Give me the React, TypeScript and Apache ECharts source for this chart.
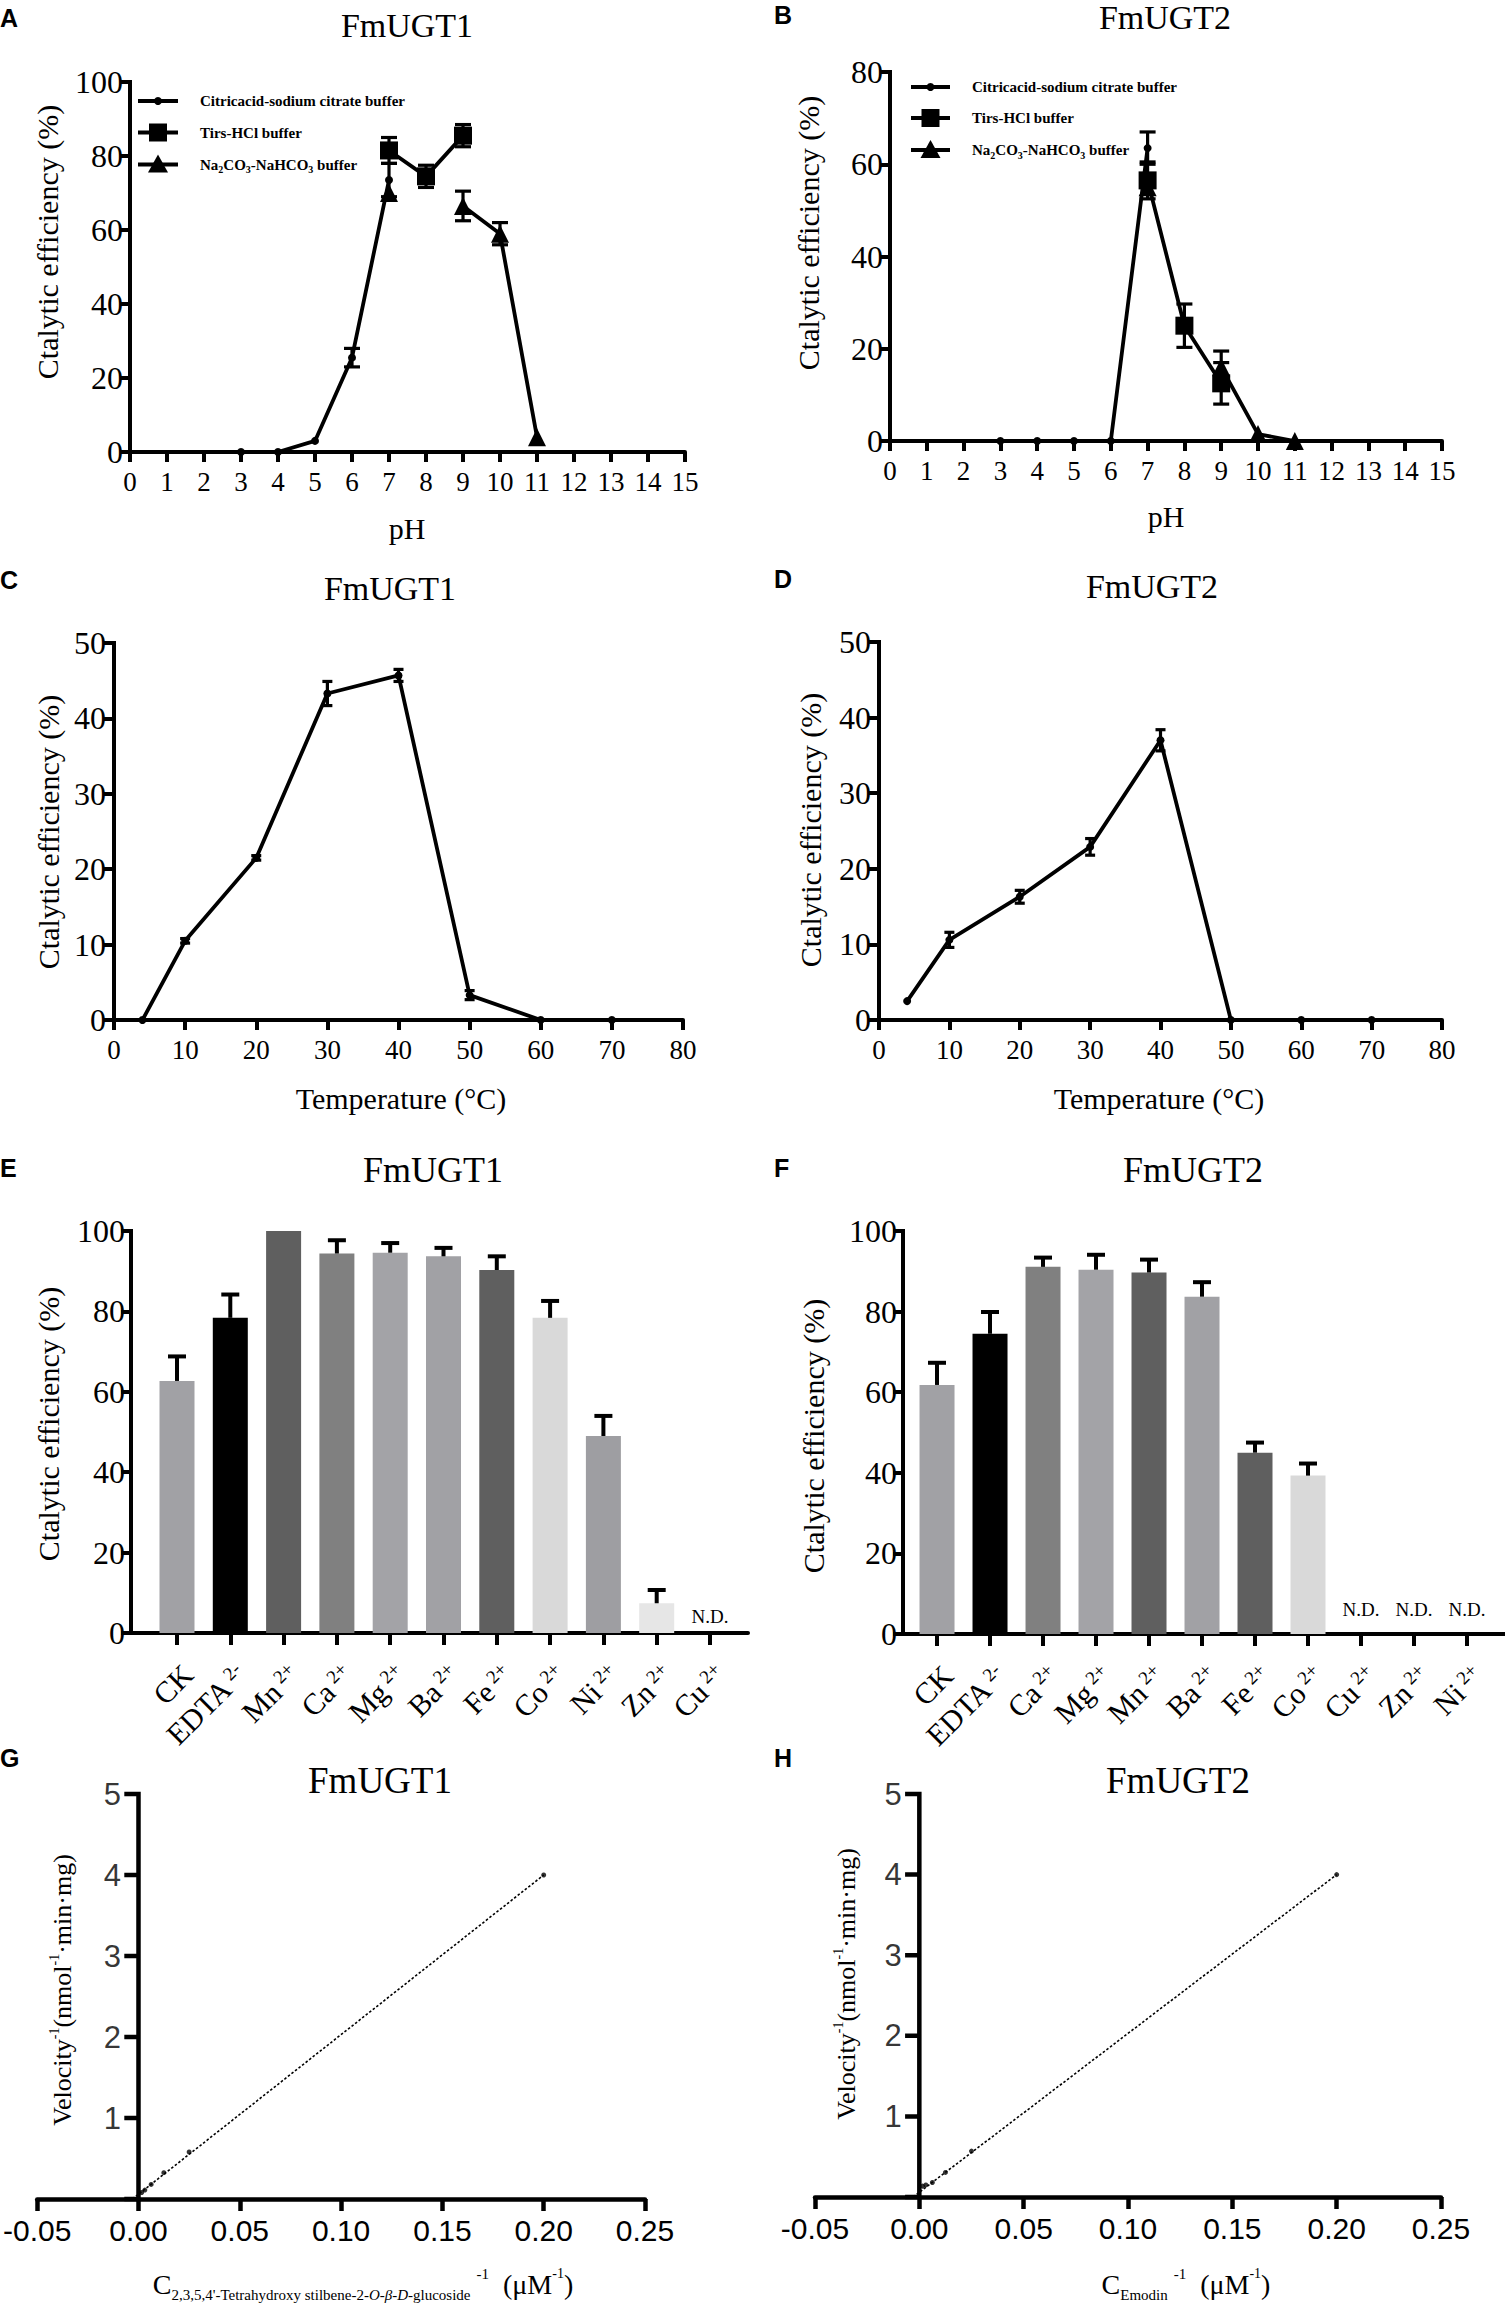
import React, { useEffect, useRef } from "react";
import * as echarts from "echarts";

const SERIF = "'Liberation Serif', 'Times New Roman', Times, serif";
const SANS = "'Liberation Sans', Arial, Helvetica, sans-serif";

// ---------- Panel A: pH, FmUGT1 ----------
const A_citricX = [3, 4, 5, 6, 7];
const A_citricY = [0, 0, 3, 25.5, 73.5];
const A_citricSd = [0, 0, 0, 2.5, 4.5];
const A_trisX = [7, 8, 9];
const A_trisY = [81.5, 74.5, 85.5];
const A_trisSd = [3.5, 3, 3];
const A_naX = [7, 8, 9, 10, 11];
const A_naY = [70, null, 66.5, 59, 4];
const A_naSd = [0, 0, 4, 3, 0];

// ---------- Panel B: pH, FmUGT2 ----------
const B_citricX = [3, 4, 5, 6, 7];
const B_citricY = [0, 0, 0, 0, 63.5];
const B_citricSd = [0, 0, 0, 0, 3.5];
const B_trisX = [7, 8, 9];
const B_trisY = [56.5, 25, 12.5];
const B_trisSd = [4, 4.7, 4.5];
const B_naX = [7, 8, 9, 10, 11];
const B_naY = [55, null, 16, 1.5, 0];
const B_naSd = [0, 0, 3.5, 0, 0];

// ---------- Panels C / D: temperature ----------
const T_x = [4, 10, 20, 30, 40, 50, 60, 70];
const C_y = [0, 10.5, 21.5, 43.3, 45.7, 3.3, 0, 0];
const C_sd = [0, 0.3, 0.3, 1.6, 0.8, 0.6, 0, 0];
const D_y = [2.5, 10.6, 16.3, 22.9, 37, 0, 0, 0];
const D_sd = [0, 1, 0.85, 1.1, 1.4, 0, 0, 0];

// ---------- Panel E: metal ions, FmUGT1 ----------
const E_categories = ["CK", "EDTA", "Mn", "Ca", "Mg", "Ba", "Fe", "Co", "Ni", "Zn", "Cu"];
const E_charges = ["", "2-", "2+", "2+", "2+", "2+", "2+", "2+", "2+", "2+", "2+"];
const E_values = [62.7, 78.4, 100, 94.4, 94.6, 93.7, 90.3, 78.4, 49, 7.4, null];
const E_sd = [6.1, 5.8, 0, 3.3, 2.4, 2.1, 3.4, 4.2, 5, 3.3, 0];
const E_colors = ["#a1a1a5", "#000000", "#5f5f5f", "#808080", "#a3a3a7", "#a1a1a5", "#5f5f5f", "#d9d9d9", "#9e9ea2", "#e6e6e6", "#ffffff"];

// ---------- Panel F: metal ions, FmUGT2 ----------
const F_categories = ["CK", "EDTA", "Ca", "Mg", "Mn", "Ba", "Fe", "Co", "Cu", "Zn", "Ni"];
const F_charges = ["", "2-", "2+", "2+", "2+", "2+", "2+", "2+", "2+", "2+", "2+"];
const F_values = [61.8, 74.5, 91.1, 90.4, 89.7, 83.7, 45, 39.3, null, null, null];
const F_sd = [5.5, 5.4, 2.3, 3.7, 3.2, 3.6, 2.5, 3, 0, 0, 0];
const F_colors = ["#a1a1a5", "#000000", "#808080", "#a3a3a7", "#5f5f5f", "#a1a1a5", "#5f5f5f", "#d9d9d9", "#ffffff", "#ffffff", "#ffffff"];

// ---------- Panels G / H: Lineweaver-Burk ----------
const G_x = [0.2, 0.025, 0.0125, 0.00625, 0.003125, 0.0015625];
const G_y = [4.0, 0.58, 0.325, 0.18, 0.11, 0.08];
const G_fit = [[-0.003, 0], [0.2, 4.0]];
const H_x = [0.2, 0.025, 0.0125, 0.00625, 0.003125, 0.0015625];
const H_y = [4.0, 0.57, 0.305, 0.18, 0.15, 0.135];
const H_fit = [[-0.003, 0], [0.2, 4.0]];

// ---------- axis ranges / tick values ----------
const phTicks = { min: 0, max: 15, interval: 1 };
const tempTicks = { min: 0, max: 80, interval: 10 };
const lbXTicks = { min: -0.05, max: 0.25, interval: 0.05 };
const yTicksA = [0, 20, 40, 60, 80, 100];
const yTicksB = [0, 20, 40, 60, 80];
const yTicksCD = [0, 10, 20, 30, 40, 50];
const yTicksEF = [0, 20, 40, 60, 80, 100];
const yTicksGH = [0, 1, 2, 3, 4, 5];
const E_range = [-0.863, 10.713];
const F_range = [-0.642, 10.717];

const ND_LEVEL_E = 4;
const ND_LEVEL_F = 6;

const LINE = { color: "#000", width: 4 };

type Grid = { left: number; top: number; width: number; height: number };
const GRIDS: Grid[] = [
  { left: 130, top: 82, width: 555, height: 370 },
  { left: 890, top: 72, width: 552, height: 369 },
  { left: 114, top: 643, width: 569, height: 377 },
  { left: 879, top: 642, width: 563, height: 378 },
  { left: 131, top: 1231, width: 617, height: 402 },
  { left: 903, top: 1231, width: 602, height: 403 },
  { left: 34, top: 1794, width: 611, height: 405 },
  { left: 815, top: 1794, width: 626, height: 403 },
];
const X_RANGES = [
  [phTicks.min, phTicks.max], [phTicks.min, phTicks.max],
  [tempTicks.min, tempTicks.max], [tempTicks.min, tempTicks.max],
  E_range, F_range,
  [lbXTicks.min, lbXTicks.max], [lbXTicks.min, lbXTicks.max],
];

function pairs(xs: number[], ys: (number | null)[]) {
  return xs.map((x, i) => [x, ys[i] == null ? "-" : ys[i]]);
}
function errData(xs: number[], ys: (number | null)[], sds: number[]) {
  const out: number[][] = [];
  xs.forEach((x, i) => {
    const y = ys[i];
    if (y != null && sds[i] > 0) out.push([x, y - sds[i], y + sds[i]]);
  });
  return out;
}
function barErrData(vals: (number | null)[], sds: number[]) {
  const out: number[][] = [];
  vals.forEach((v, i) => {
    if (v != null && sds[i] > 0) out.push([i, v, v + sds[i]]);
  });
  return out;
}

function errRender(capHalf: number, both: boolean, width: number) {
  return (params: any, api: any) => {
    const x = api.value(0);
    const lo = api.coord([x, api.value(1)]);
    const hi = api.coord([x, api.value(2)]);
    const st = { stroke: "#000", lineWidth: width };
    const children: any[] = [
      { type: "line", shape: { x1: lo[0], y1: lo[1], x2: hi[0], y2: hi[1] }, style: st },
      { type: "line", shape: { x1: hi[0] - capHalf, y1: hi[1], x2: hi[0] + capHalf, y2: hi[1] }, style: st },
    ];
    if (both) children.push({ type: "line", shape: { x1: lo[0] - capHalf, y1: lo[1], x2: lo[0] + capHalf, y2: lo[1] }, style: st });
    return { type: "group", children };
  };
}

function xValAxis(gi: number, r: { min: number; max: number; interval: number }) {
  return {
    gridIndex: gi, type: "value", min: r.min, max: r.max, interval: r.interval,
    axisLine: { show: true, onZero: false, lineStyle: LINE },
    axisTick: { show: true, length: 10, lineStyle: LINE },
    axisLabel: { color: "#000", fontFamily: SERIF, fontSize: 27, margin: 16, showMinLabel: true, showMaxLabel: true },
    splitLine: { show: false },
  };
}
function yValAxis(gi: number, ticks: number[], margin = 6, native = true) {
  return {
    gridIndex: gi, type: "value", min: ticks[0], max: ticks[ticks.length - 1], interval: ticks[1] - ticks[0],
    axisLine: { show: native, onZero: false, lineStyle: LINE },
    axisTick: { show: native, length: 10, lineStyle: LINE },
    axisLabel: { show: native, color: "#000", fontFamily: SERIF, fontSize: 32, margin: margin + 1, showMinLabel: true, showMaxLabel: true },
    splitLine: { show: false },
  };
}
function catAxis(gi: number, range: number[], cats: string[], charges: string[]) {
  const idx = cats.map((_, i) => i);
  return {
    gridIndex: gi, type: "value", min: range[0], max: range[1],
    axisLine: { show: true, onZero: false, lineStyle: LINE },
    axisTick: { show: true, length: 12, lineStyle: LINE, customValues: idx },
    axisLabel: {
      customValues: idx, rotate: 45, margin: 26, color: "#000", showMinLabel: true, showMaxLabel: true, hideOverlap: false,
      align: "right", verticalAlign: "top",
      formatter: (v: number) => {
        const i = Math.round(v);
        return charges[i] ? `{n|${cats[i]}}{s|${charges[i]}}` : `{n|${cats[i]}}`;
      },
      rich: {
        n: { fontFamily: SERIF, fontSize: 30, lineHeight: 30, color: "#000" },
        s: { fontFamily: SERIF, fontSize: 19, lineHeight: 19, verticalAlign: "top", padding: [0, 0, 0, 5], color: "#000" },
      },
    },
    splitLine: { show: false },
  };
}

// vertical axis as a line series (axis line + outward ticks), in the grid's own data units
function yAxisLineSeries(gi: number, ticks: number[], x0: number, tickLenPx: number, w: number) {
  const g = GRIDS[gi];
  const xr = X_RANGES[gi];
  const dx = (tickLenPx * (xr[1] - xr[0])) / g.width;
  const data: any[] = [[x0, ticks[0]], [x0, ticks[ticks.length - 1]]];
  ticks.forEach((t) => {
    data.push([x0, "-"]);
    data.push([x0, t]);
    data.push([x0 - dx, t]);
  });
  return {
    type: "line", xAxisIndex: gi, yAxisIndex: gi, data, symbol: "none", clip: false, connectNulls: false,
    lineStyle: { color: "#000", width: w, cap: "square" }, z: 8, silent: true,
  };
}
// tick labels of the vertical axis drawn by a scatter series (for axes that sit at x = 0)
function yLabelSeries(gi: number, ticks: number[], x0: number) {
  return {
    type: "scatter", xAxisIndex: gi, yAxisIndex: gi, data: ticks.slice(1).map((t) => [x0, t]),
    symbolSize: 1, itemStyle: { color: "rgba(0,0,0,0)" }, clip: false, silent: true, z: 8,
    label: {
      show: true, position: "left", distance: 17, color: "#000", fontFamily: SANS, fontSize: 31,
      formatter: (p: any) => String(p.value[1]),
    },
  };
}

function lineSeries(gi: number, xs: number[], ys: (number | null)[], symbol: string, size: number) {
  return {
    type: "line", xAxisIndex: gi, yAxisIndex: gi, data: pairs(xs, ys), symbol, symbolSize: size,
    showSymbol: true, showAllSymbol: true, clip: false, connectNulls: false,
    lineStyle: { color: "#000", width: 3.8 }, itemStyle: { color: "#000" }, z: 3,
  };
}
function errSeries(gi: number, data: number[][], capHalf: number, both: boolean, width = 3.2) {
  return {
    type: "custom", xAxisIndex: gi, yAxisIndex: gi, data, encode: { x: 0, y: [1, 2] },
    renderItem: errRender(capHalf, both, width), clip: false, z: 4,
  };
}
function barSeries(gi: number, vals: (number | null)[], colors: string[]) {
  const data: any[] = [];
  vals.forEach((v, i) => {
    if (v != null) data.push({ value: [i, v], itemStyle: { color: colors[i] } });
  });
  return { type: "bar", xAxisIndex: gi, yAxisIndex: gi, data, barWidth: 35, z: 2 };
}
function ndSeries(gi: number, vals: (number | null)[], level: number) {
  const data: number[][] = [];
  vals.forEach((v, i) => { if (v == null) data.push([i, level]); });
  return {
    type: "custom", xAxisIndex: gi, yAxisIndex: gi, data, encode: { x: 0, y: 1 },
    renderItem: (params: any, api: any) => {
      const p = api.coord([api.value(0), api.value(1)]);
      return {
        type: "text", x: p[0], y: p[1],
        style: { text: "N.D.", fill: "#000", fontFamily: SERIF, fontSize: 19, textAlign: "center", textVerticalAlign: "middle" },
      };
    },
    z: 5,
  };
}

function text(x: number, y: number, t: string, o: any = {}) {
  return {
    type: "text", x, y, rotation: o.rotation || 0, z: 10,
    style: {
      text: t, fill: "#000", fontFamily: o.fontFamily || SERIF, fontSize: o.fontSize || 30,
      fontWeight: o.fontWeight || "normal", textAlign: o.align || "center", textVerticalAlign: "middle",
      rich: o.rich,
    },
  };
}
function panelLetter(x: number, y: number, t: string) {
  return text(x, y, t, { fontFamily: SANS, fontSize: 25, fontWeight: "bold", align: "left" });
}

const legendRich = {
  b: { fontFamily: SERIF, fontSize: 15, fontWeight: "bold", lineHeight: 20, verticalAlign: "middle", color: "#000" },
  s: { fontFamily: SERIF, fontSize: 10, fontWeight: "bold", lineHeight: 12, verticalAlign: "bottom", color: "#000" },
};
const legendLabels = [
  "{b|Citricacid-sodium citrate buffer}",
  "{b|Tirs-HCl buffer}",
  "{b|Na}{s|2}{b|CO}{s|3}{b|-NaHCO}{s|3}{b| buffer}",
];
function legend(x1: number, x2: number, tx: number, rows: number[]) {
  const els: any[] = [];
  const mx = (x1 + x2) / 2;
  rows.forEach((y, i) => {
    els.push({ type: "line", shape: { x1, y1: y, x2, y2: y }, style: { stroke: "#000", lineWidth: 3.8 }, z: 10 });
    if (i === 0) els.push({ type: "circle", shape: { cx: mx, cy: y, r: 4 }, style: { fill: "#000" }, z: 11 });
    if (i === 1) els.push({ type: "rect", shape: { x: mx - 9, y: y - 9, width: 18, height: 18 }, style: { fill: "#000" }, z: 11 });
    if (i === 2) els.push({ type: "polygon", shape: { points: [[mx, y - 10], [mx + 10, y + 8], [mx - 10, y + 8]] }, style: { fill: "#000" }, z: 11 });
    els.push({
      type: "text", x: tx, y, z: 11,
      style: { text: legendLabels[i], rich: legendRich, textAlign: "left", textVerticalAlign: "middle", fill: "#000" },
    });
  });
  return els;
}

const yTitle = "Ctalytic efficiency (%)";

function buildOption() {
  const grids = GRIDS;

  const lbAxisX = (gi: number) => ({
    gridIndex: gi, type: "value", min: lbXTicks.min, max: lbXTicks.max, interval: lbXTicks.interval,
    axisLine: { show: true, onZero: false, lineStyle: { color: "#000", width: 4.5 } },
    axisTick: { show: true, length: 12, lineStyle: { color: "#000", width: 4.5 } },
    axisLabel: { color: "#000", fontFamily: SANS, fontSize: 30, margin: 16, showMinLabel: true, showMaxLabel: true, formatter: (v: number) => v.toFixed(2) },
    splitLine: { show: false },
  });

  const xAxis = [
    xValAxis(0, phTicks),
    xValAxis(1, phTicks),
    xValAxis(2, tempTicks),
    xValAxis(3, tempTicks),
    catAxis(4, E_range, E_categories, E_charges),
    catAxis(5, F_range, F_categories, F_charges),
    lbAxisX(6),
    lbAxisX(7),
  ];
  const yAxis = [
    yValAxis(0, yTicksA, 6),
    yValAxis(1, yTicksB, 6),
    yValAxis(2, yTicksCD, 7),
    yValAxis(3, yTicksCD, 7),
    yValAxis(4, yTicksEF, 5),
    yValAxis(5, yTicksEF, 5),
    yValAxis(6, yTicksGH, 6, false),
    yValAxis(7, yTicksGH, 6, false),
  ];

  const series: any[] = [
    // vertical axes
    yAxisLineSeries(0, yTicksA, phTicks.min, 10, 4),
    yAxisLineSeries(1, yTicksB, phTicks.min, 10, 4),
    yAxisLineSeries(2, yTicksCD, tempTicks.min, 10, 4),
    yAxisLineSeries(3, yTicksCD, tempTicks.min, 10, 4),
    yAxisLineSeries(4, yTicksEF, E_range[0], 10, 4),
    yAxisLineSeries(5, yTicksEF, F_range[0], 10, 4),
    yAxisLineSeries(6, yTicksGH, 0, 12, 4.5),
    yAxisLineSeries(7, yTicksGH, 0, 12, 4.5),
    yLabelSeries(6, yTicksGH, 0),
    yLabelSeries(7, yTicksGH, 0),
    // A
    lineSeries(0, A_citricX, A_citricY, "circle", 8),
    lineSeries(0, A_trisX, A_trisY, "rect", 18),
    lineSeries(0, A_naX, A_naY, "triangle", 18),
    errSeries(0, errData(A_citricX, A_citricY, A_citricSd), 8, true),
    errSeries(0, errData(A_trisX, A_trisY, A_trisSd), 8, true),
    errSeries(0, errData(A_naX, A_naY, A_naSd), 8, true),
    // B
    lineSeries(1, B_citricX, B_citricY, "circle", 8),
    lineSeries(1, B_trisX, B_trisY, "rect", 18),
    lineSeries(1, B_naX, B_naY, "triangle", 18),
    errSeries(1, errData(B_citricX, B_citricY, B_citricSd), 8, true),
    errSeries(1, errData(B_trisX, B_trisY, B_trisSd), 8, true),
    errSeries(1, errData(B_naX, B_naY, B_naSd), 8, true),
    // C / D
    lineSeries(2, T_x, C_y, "circle", 8),
    errSeries(2, errData(T_x, C_y, C_sd), 5, true),
    lineSeries(3, T_x, D_y, "circle", 8),
    errSeries(3, errData(T_x, D_y, D_sd), 5, true),
    // E / F
    barSeries(4, E_values, E_colors),
    errSeries(4, barErrData(E_values, E_sd), 9, false, 4),
    ndSeries(4, E_values, ND_LEVEL_E),
    barSeries(5, F_values, F_colors),
    errSeries(5, barErrData(F_values, F_sd), 9, false, 4),
    ndSeries(5, F_values, ND_LEVEL_F),
    // G / H
    {
      type: "line", xAxisIndex: 6, yAxisIndex: 6, data: G_fit, symbol: "none", clip: false,
      lineStyle: { color: "#000", width: 1.6, type: [2.5, 2] }, z: 2,
    },
    {
      type: "scatter", xAxisIndex: 6, yAxisIndex: 6, data: G_x.map((x, i) => [x, G_y[i]]),
      symbolSize: 5, itemStyle: { color: "#000" }, clip: false, z: 3,
    },
    {
      type: "line", xAxisIndex: 7, yAxisIndex: 7, data: H_fit, symbol: "none", clip: false,
      lineStyle: { color: "#000", width: 1.6, type: [2.5, 2] }, z: 2,
    },
    {
      type: "scatter", xAxisIndex: 7, yAxisIndex: 7, data: H_x.map((x, i) => [x, H_y[i]]),
      symbolSize: 5, itemStyle: { color: "#000" }, clip: false, z: 3,
    },
  ];

  const lbYRich = {
    t: { fontFamily: SERIF, fontSize: 26, lineHeight: 30, verticalAlign: "middle", color: "#000" },
    s: { fontFamily: SERIF, fontSize: 14, lineHeight: 14, verticalAlign: "top", color: "#000" },
  };
  const lbXRich = {
    c: { fontFamily: SERIF, fontSize: 28, lineHeight: 36, verticalAlign: "middle", color: "#000" },
    sub: { fontFamily: SERIF, fontSize: 15, lineHeight: 15, verticalAlign: "bottom", color: "#000" },
    subi: { fontFamily: SERIF, fontSize: 15, lineHeight: 15, verticalAlign: "bottom", fontStyle: "italic", color: "#000" },
    sup: { fontFamily: SERIF, fontSize: 15, lineHeight: 15, verticalAlign: "top", padding: [0, 0, 0, 6], color: "#000" },
    sup2: { fontFamily: SERIF, fontSize: 14, lineHeight: 14, verticalAlign: "top", color: "#000" },
  };
  const lbY = "{t|Velocity}{s|-1}{t|(nmol}{s|-1}{t|·min·mg)}";

  const graphic: any[] = [
    panelLetter(0, 18, "A"),
    panelLetter(774, 15, "B"),
    panelLetter(0, 580, "C"),
    panelLetter(774, 579, "D"),
    panelLetter(0, 1168, "E"),
    panelLetter(774, 1168, "F"),
    panelLetter(0, 1758, "G"),
    panelLetter(774, 1758, "H"),
    text(407, 25, "FmUGT1", { fontSize: 34 }),
    text(1165, 17, "FmUGT2", { fontSize: 34 }),
    text(390, 588, "FmUGT1", { fontSize: 34 }),
    text(1152, 586, "FmUGT2", { fontSize: 34 }),
    text(433, 1170, "FmUGT1", { fontSize: 36 }),
    text(1193, 1170, "FmUGT2", { fontSize: 36 }),
    text(380, 1780, "FmUGT1", { fontSize: 37 }),
    text(1178, 1780, "FmUGT2", { fontSize: 37 }),
    text(47, 242, yTitle, { rotation: Math.PI / 2 }),
    text(808, 233, yTitle, { rotation: Math.PI / 2 }),
    text(48, 832, yTitle, { rotation: Math.PI / 2 }),
    text(810, 830, yTitle, { rotation: Math.PI / 2 }),
    text(48, 1424, yTitle, { rotation: Math.PI / 2 }),
    text(813, 1436, yTitle, { rotation: Math.PI / 2 }),
    text(407, 528, "pH"),
    text(1166, 516, "pH"),
    text(401, 1098, "Temperature (°C)"),
    text(1159, 1098, "Temperature (°C)"),
    text(62, 1990, lbY, { rotation: Math.PI / 2, rich: lbYRich }),
    text(846, 1984, lbY, { rotation: Math.PI / 2, rich: lbYRich }),
    text(363, 2284,
      "{c|C}{sub|2,3,5,4'-Tetrahydroxy stilbene-2-}{subi|O}{sub|-}{subi|β}{sub|-}{subi|D}{sub|-glucoside}{sup|-1}{c|  (μM}{sup2|-1}{c|)}",
      { rich: lbXRich }),
    text(1186, 2284, "{c|C}{sub|Emodin}{sup|-1}{c|  (μM}{sup2|-1}{c|)}", { rich: lbXRich }),
    ...legend(138, 178, 200, [101, 132.5, 164.5]),
    ...legend(911, 950, 972, [87, 118, 150]),
  ];

  return {
    animation: false,
    backgroundColor: "#ffffff",
    grid: grids.map((g) => ({ ...g, containLabel: false })),
    xAxis,
    yAxis,
    series,
    graphic,
  };
}

export default function App() {
  const ref = useRef<HTMLDivElement>(null);
  useEffect(() => {
    document.body.style.margin = "0";
    const chart = echarts.init(ref.current as HTMLDivElement, null, { renderer: "svg" });
    chart.setOption(buildOption() as any);
    return () => chart.dispose();
  }, []);
  return <div ref={ref} style={{ width: 1505, height: 2304, background: "#fff" }} />;
}
